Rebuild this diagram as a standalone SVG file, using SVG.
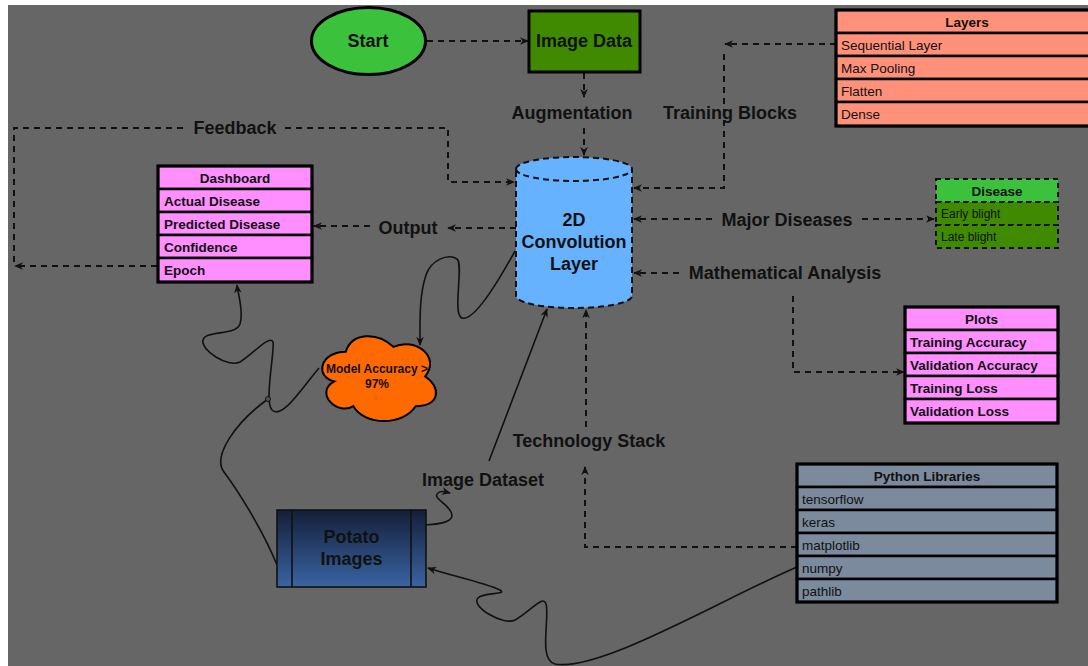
<svg xmlns="http://www.w3.org/2000/svg" width="1088" height="666" viewBox="0 0 1088 666">
  <style>
    .lbl { font-family: "Liberation Sans", Arial, sans-serif; font-weight: bold; font-size: 18px; fill: #111; text-anchor: middle; }
    .hdr { font-family: "Liberation Sans", Arial, sans-serif; font-weight: bold; font-size: 13.5px; fill: #111; text-anchor: middle; }
    .rowb { font-family: "Liberation Sans", Arial, sans-serif; font-weight: bold; font-size: 13.5px; fill: #111; }
    .rowr { font-family: "Liberation Sans", Arial, sans-serif; font-size: 13.5px; fill: #111; }
    .rows { font-family: "Liberation Sans", Arial, sans-serif; font-size: 12px; fill: #111; }
    .dash { fill: none; stroke: #111; stroke-width: 2; stroke-dasharray: 6 5; }
    .solid { fill: none; stroke: #111; stroke-width: 1.6; }
    .cell { stroke: #000; stroke-width: 2.5; }
    .frame { fill: none; stroke: #000; stroke-width: 3; }
    .pink { fill: #ff8fff; }
    .salmon { fill: #ff917b; }
    .slate { fill: #7b8a9d; }
  </style>
  <defs>
    <marker id="arrow" viewBox="0 0 10 10" refX="9" refY="5" markerWidth="9" markerHeight="9" markerUnits="userSpaceOnUse" orient="auto">
      <path d="M0,0.8 L10,5 L0,9.2 L3,5 z" fill="#111"/>
    </marker>
    <linearGradient id="potatoFill" x1="0" y1="0" x2="0" y2="1">
      <stop offset="0" stop-color="#141f38"/>
      <stop offset="1" stop-color="#3a64a3"/>
    </linearGradient>
  </defs>

  <!-- canvas -->
  <rect x="8" y="5" width="1080" height="661" fill="#666666"/>

  <!-- connectors -->
  <g id="connectors">
    <!-- start to image data -->
    <path class="dash" d="M427,41 L528,41" marker-end="url(#arrow)"/>
    <!-- image data to augmentation -->
    <path class="dash" d="M584,73 L584,97" marker-end="url(#arrow)"/>
    <path class="dash" d="M584,128 L584,155" marker-end="url(#arrow)"/>
    <!-- training blocks -->
    <path class="dash" d="M836,44 L725,44" marker-end="url(#arrow)"/>
    <path class="dash" d="M724,54 L724,188 L634,188" marker-end="url(#arrow)"/>
    <!-- feedback loop -->
    <path class="dash" d="M157,266 L15,266" marker-end="url(#arrow)"/>
    <path class="dash" d="M14,262 L14,128 L186,128"/>
    <path class="dash" d="M285,128 L448,128 L448,182 L514,182" marker-end="url(#arrow)"/>
    <!-- output -->
    <path class="dash" d="M516,228 L448,228" marker-end="url(#arrow)"/>
    <path class="dash" d="M370,226 L314,226" marker-end="url(#arrow)"/>
    <!-- major diseases -->
    <path class="dash" d="M712,219 L634,219" marker-end="url(#arrow)"/>
    <path class="dash" d="M862,219 L934,219" marker-end="url(#arrow)"/>
    <!-- mathematical analysis -->
    <path class="dash" d="M679,273 L634,273" marker-end="url(#arrow)"/>
    <path class="dash" d="M793,296 L793,372 L904,372" marker-end="url(#arrow)"/>
    <!-- technology stack -->
    <path class="dash" d="M586,427 L586,310" marker-end="url(#arrow)"/>
    <path class="dash" d="M797,547 L585,547 L585,467" marker-end="url(#arrow)"/>
    <!-- potato images to image dataset to convolution layer -->
    <path class="solid" d="M426,525 C440,524 456,522 451,512 C446,502 432,498 438,493 C441,490 446,492 450,493" marker-end="url(#arrow)"/>
    <path class="solid" d="M489,461 L547,309" marker-end="url(#arrow)"/>
    <!-- convolution layer to model accuracy -->
    <path class="solid" d="M515,251 C498,282 474,322 462,318 C452,315 464,264 457,259 C448,253 431,260 426,275 C419,296 420,322 420,345" marker-end="url(#arrow)"/>
    <!-- model accuracy to dashboard -->
    <path class="solid" d="M319,368 C302,388 282,420 272,410 C264,402 275,350 273,342 C270,334 252,355 240,362 C228,368 200,350 203,340 C206,330 236,336 240,324 C244,312 238,294 237,285" marker-end="url(#arrow)"/>
    <!-- potato images joins the dashboard link -->
    <path class="solid" d="M277,565 C262,528 236,488 224,472 C212,456 236,422 268,399"/>
    <circle cx="268" cy="399" r="2.5" fill="#555" stroke="#111" stroke-width="1"/>
    <!-- python libraries to potato images -->
    <path class="solid" d="M797,567 C720,600 600,672 555,664 C538,660 550,618 546,604 C543,594 530,612 515,620 C503,626 470,606 478,598 C484,592 508,595 500,590 C482,582 452,576 428,568" marker-end="url(#arrow)"/>
  </g>

  <!-- Start -->
  <g id="start">
    <ellipse cx="368.5" cy="41" rx="57" ry="33.5" fill="#3cc13c" stroke="#000" stroke-width="3"/>
    <text class="lbl" x="368" y="47">Start</text>
  </g>

  <!-- Image Data -->
  <g id="image-data">
    <rect x="529" y="11" width="111" height="61" fill="#3f8a00" stroke="#000" stroke-width="3"/>
    <text class="lbl" x="584" y="47">Image Data</text>
  </g>

  <!-- edge labels -->
  <g id="labels">
    <text class="lbl" x="572" y="119">Augmentation</text>
    <text class="lbl" x="730" y="119">Training Blocks</text>
    <text class="lbl" x="235" y="134">Feedback</text>
    <text class="lbl" x="408" y="234">Output</text>
    <text class="lbl" x="787" y="226">Major Diseases</text>
    <text class="lbl" x="785" y="279">Mathematical Analysis</text>
    <text class="lbl" x="589" y="447">Technology Stack</text>
    <text class="lbl" x="483" y="486">Image Dataset</text>
  </g>

  <!-- 2D Convolution Layer -->
  <g id="conv-layer">
    <path d="M516,169 A58,12 0 0 1 632,169 L632,296 A58,12 0 0 1 516,296 Z" fill="#66b2ff" stroke="#111" stroke-width="2" stroke-dasharray="6 4"/>
    <path d="M516,169 A58,12 0 0 0 632,169" fill="none" stroke="#111" stroke-width="2" stroke-dasharray="6 4"/>
    <text class="lbl" x="574" y="226">2D</text>
    <text class="lbl" x="574" y="248">Convolution</text>
    <text class="lbl" x="574" y="270">Layer</text>
  </g>

  <!-- Layers -->
  <g id="layers">
    <rect class="cell salmon" x="836" y="10" width="262" height="23"/>
    <rect class="cell salmon" x="836" y="33" width="262" height="23"/>
    <rect class="cell salmon" x="836" y="56" width="262" height="23"/>
    <rect class="cell salmon" x="836" y="79" width="262" height="23"/>
    <rect class="cell salmon" x="836" y="102" width="262" height="24"/>
    <rect class="frame" x="836" y="10" width="262" height="116"/>
    <text class="hdr" x="967" y="26.5">Layers</text>
    <text class="rowr" x="841" y="49.5">Sequential Layer</text>
    <text class="rowr" x="841" y="72.5">Max Pooling</text>
    <text class="rowr" x="841" y="95.5">Flatten</text>
    <text class="rowr" x="841" y="118.5">Dense</text>
  </g>

  <!-- Dashboard -->
  <g id="dashboard">
    <rect class="cell pink" x="158" y="166" width="154" height="23"/>
    <rect class="cell pink" x="158" y="189" width="154" height="23"/>
    <rect class="cell pink" x="158" y="212" width="154" height="23"/>
    <rect class="cell pink" x="158" y="235" width="154" height="23"/>
    <rect class="cell pink" x="158" y="258" width="154" height="24"/>
    <rect class="frame" x="158" y="166" width="154" height="116"/>
    <text class="hdr" x="235" y="182.5">Dashboard</text>
    <text class="rowb" x="164" y="205.5">Actual Disease</text>
    <text class="rowb" x="164" y="228.5">Predicted Disease</text>
    <text class="rowb" x="164" y="251.5">Confidence</text>
    <text class="rowb" x="164" y="274.5">Epoch</text>
  </g>

  <!-- Disease -->
  <g id="disease">
    <rect x="936" y="179" width="122" height="23" fill="#3cc13c" stroke="#111" stroke-width="2" stroke-dasharray="5 4"/>
    <rect x="936" y="202" width="122" height="23" fill="#3f8a00" stroke="#111" stroke-width="2" stroke-dasharray="5 4"/>
    <rect x="936" y="225" width="122" height="23" fill="#3f8a00" stroke="#111" stroke-width="2" stroke-dasharray="5 4"/>
    <text class="hdr" x="997" y="195.5">Disease</text>
    <text class="rows" x="941" y="217.5">Early blight</text>
    <text class="rows" x="941" y="240.5">Late blight</text>
  </g>

  <!-- Plots -->
  <g id="plots">
    <rect class="cell pink" x="905" y="307" width="153" height="23"/>
    <rect class="cell pink" x="905" y="330" width="153" height="23"/>
    <rect class="cell pink" x="905" y="353" width="153" height="23"/>
    <rect class="cell pink" x="905" y="376" width="153" height="23"/>
    <rect class="cell pink" x="905" y="399" width="153" height="24"/>
    <rect class="frame" x="905" y="307" width="153" height="116"/>
    <text class="hdr" x="981.5" y="323.5">Plots</text>
    <text class="rowb" x="910" y="346.5">Training Accuracy</text>
    <text class="rowb" x="910" y="369.5">Validation Accuracy</text>
    <text class="rowb" x="910" y="392.5">Training Loss</text>
    <text class="rowb" x="910" y="415.5">Validation Loss</text>
  </g>

  <!-- Model Accuracy -->
  <g id="model-accuracy">
    <path d="M345.75,351.75 C320.35,351.75 314,376.5 334.3,381.45 C314,392.3 336.9,416.1 353.4,406.2 C364.8,426 402.9,426 415.6,406.2 C441,406.2 441,386.4 425.1,376.5 C441,356.7 415.6,336.9 393.4,346.8 C377.5,331.95 352.1,331.95 345.75,351.75 Z" fill="#ff6a00" stroke="#000" stroke-width="2"/>
    <text class="hdr" style="font-size:12px" x="377" y="373">Model Accuracy &gt;</text>
    <text class="hdr" style="font-size:12px" x="377" y="388">97%</text>
  </g>

  <!-- Potato Images -->
  <g id="potato-images">
    <rect x="277" y="510" width="149" height="77" fill="url(#potatoFill)" stroke="#111" stroke-width="1.6"/>
    <line x1="292" y1="510" x2="292" y2="587" stroke="#111" stroke-width="1.6"/>
    <line x1="411" y1="510" x2="411" y2="587" stroke="#111" stroke-width="1.6"/>
    <text class="lbl" x="351.5" y="543">Potato</text>
    <text class="lbl" x="351.5" y="565">Images</text>
  </g>

  <!-- Python Libraries -->
  <g id="python-libraries">
    <rect class="cell slate" x="797" y="464" width="260" height="23"/>
    <rect class="cell slate" x="797" y="487" width="260" height="23"/>
    <rect class="cell slate" x="797" y="510" width="260" height="23"/>
    <rect class="cell slate" x="797" y="533" width="260" height="23"/>
    <rect class="cell slate" x="797" y="556" width="260" height="23"/>
    <rect class="cell slate" x="797" y="579" width="260" height="23"/>
    <rect class="frame" x="797" y="464" width="260" height="138"/>
    <text class="hdr" x="927" y="480.5">Python Libraries</text>
    <text class="rowr" x="802" y="503.5">tensorflow</text>
    <text class="rowr" x="802" y="526.5">keras</text>
    <text class="rowr" x="802" y="549.5">matplotlib</text>
    <text class="rowr" x="802" y="572.5">numpy</text>
    <text class="rowr" x="802" y="595.5">pathlib</text>
  </g>
</svg>
